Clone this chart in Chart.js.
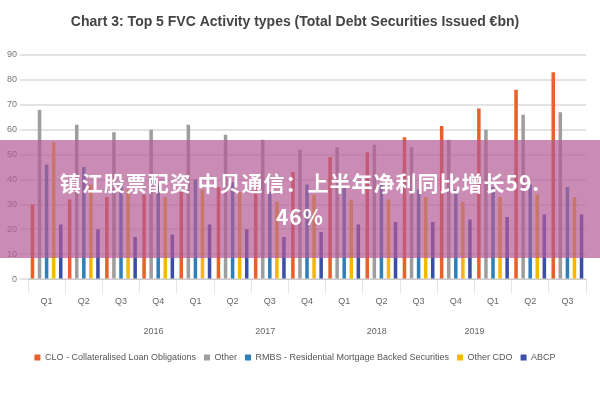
<!DOCTYPE html>
<html><head><meta charset="utf-8">
<script src="https://cdn.jsdelivr.net/npm/chart.js@4"></script>
<style>
body{margin:0;background:#fff;font-family:Lato,"Noto Sans",sans-serif}
#wrap{position:relative;width:600px;height:400px}
#banner{position:absolute;left:0;top:140px;width:600px;height:118px;background:rgba(180,90,150,0.7);color:#fff;
font:bold 21px "Noto Sans CJK SC",sans-serif;text-align:center;line-height:34px;padding-top:25px;box-sizing:border-box;letter-spacing:1px}
</style></head><body>
<div id="wrap"><canvas id="c" width="600" height="400"></canvas>
<div id="banner">镇江股票配资 中贝通信：上半年净利同比增长59.<br>46%</div></div>
<script>
const quarters = ['Q1','Q2','Q3','Q4','Q1','Q2','Q3','Q4','Q1','Q2','Q3','Q4','Q1','Q2','Q3'];
const years = ['2016','2017','2018','2019'];
const yearCenters = [1.5, 5.5, 9.5, 13];
const clo = [30,32,33,34,35,37,38,43,49,51,57,61.5,68.5,76,83];
const other = [68,62,59,60,62,58,56,52,53,54,53,56,60,66,67];
const rmbs = [46,45,40,38,40,39,35,38,37,38,36,36,37,38,37];
const otherCdo = [55,38,36,33,36,35,31,34,32,32,33,31,33,34,33];
const abcp = [22,20,17,18,22,20,17,19,22,23,23,24,25,26,26];

const ds = (label, data, color) => ({ label, data, backgroundColor: color, barPercentage: 0.5, categoryPercentage: 0.95 });
new Chart(document.getElementById('c').getContext('2d'), {
  type: 'bar',
  data: {
    labels: quarters,
    datasets: [
      ds('CLO - Collateralised Loan Obligations', clo, '#E8602A'),
      ds('Other', other, '#9E9E9E'),
      ds('RMBS - Residential Mortgage Backed Securities', rmbs, '#2F7FB8'),
      ds('Other CDO', otherCdo, '#F5B800'),
      ds('ABCP', abcp, '#3B4FA8')
    ]
  },
  options: {
    responsive: false, animation: false,
    layout: { padding: { left: 4, right: 14, top: 14, bottom: 28 } },
    plugins: {
      title: { display: true, text: 'Chart 3: Top 5 FVC Activity types (Total Debt Securities Issued €bn)', color: '#444', font: { size: 14, weight: 'bold' }, padding: { bottom: 24 } },
      legend: { position: 'bottom', labels: { boxWidth: 6, boxHeight: 6, font: { size: 9 }, color: '#555', padding: 8 } },
      tooltip: { enabled: false }
    },
    scales: {
      x: { grid: { drawOnChartArea: false, offset: true, tickLength: 14 }, ticks: { font: { size: 9 }, color: '#666' } },
      x2: {
        type: 'linear', position: 'bottom', min: -0.5, max: 14.5,
        afterBuildTicks: axis => { axis.ticks = yearCenters.map(v => ({ value: v })); },
        ticks: { callback: (v) => years[yearCenters.indexOf(v)], font: { size: 9 }, color: '#666', padding: 8 },
        grid: { display: false }, border: { display: false }
      },
      y: { min: 0, max: 90, ticks: { stepSize: 10, font: { size: 9 }, color: '#777' }, grid: { color: '#e3e3e3', lineWidth: 2 }, border: { display: false } }
    }
  }
});
</script></body></html>
